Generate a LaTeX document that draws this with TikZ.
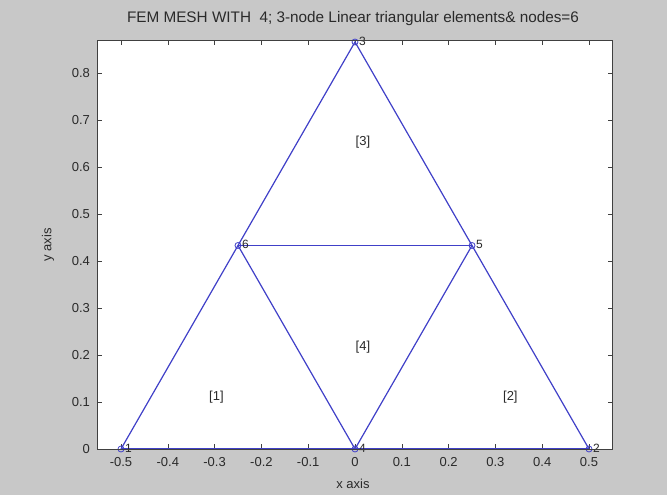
\documentclass[tikz,border=0pt]{standalone}
\usepackage{fontspec}
\setmainfont{Liberation Sans}
\definecolor{figbg}{HTML}{C8C8C8}
\definecolor{meshblue}{HTML}{4040C8}
\definecolor{axgray}{HTML}{404040}
\definecolor{txtgray}{HTML}{2A2A2A}
\begin{document}
\begin{tikzpicture}[x=1pt,y=1pt,
  ticklab/.style={font=\fontsize{13}{15}\selectfont,text=txtgray,inner sep=0pt},
  meshline/.style={draw=meshblue,line width=1.2pt},
  nodemark/.style={circle,draw=meshblue,line width=0.8pt,minimum size=6pt,inner sep=0pt},
  nodelab/.style={font=\fontsize{12}{14}\selectfont,text=txtgray,inner sep=0pt,anchor=west},
  elemlab/.style={font=\fontsize{13}{15}\selectfont,text=txtgray,inner sep=0pt}]
\fill[figbg] (0,0) rectangle (667,-495);
\useasboundingbox (0,0) rectangle (667,-495);
\fill[white] (97,-40) rectangle (612,-449);
\node[font=\fontsize{15.3}{17}\selectfont,text=txtgray] (title) at (353,-19) {FEM MESH WITH \ 4; 3-node Linear triangular elements\& nodes=6};
\node[ticklab] (xlab) at (353,-484) {x axis};
\node[ticklab,rotate=90] (ylab) at (48,-245) {y axis};
\begin{scope}[shift={(355,-449)},x=468pt,y=470pt]
  % ticks
  \foreach \t in {-0.5,-0.4,-0.3,-0.2,-0.1,0,0.1,0.2,0.3,0.4,0.5}{
    \draw[axgray,line width=0.5pt] (\t,0) -- ++(0,5pt);
    \draw[axgray,line width=0.5pt] (\t,0.87) -- ++(0,-5pt);
    \node[ticklab,anchor=north] at ([yshift=-8pt]\t,0) {\t};
  }
  \foreach \t in {0,0.1,0.2,0.3,0.4,0.5,0.6,0.7,0.8}{
    \draw[axgray,line width=0.5pt] (-0.551,\t) -- ++(5pt,0);
    \draw[axgray,line width=0.5pt] (0.551,\t) -- ++(-5pt,0);
    \node[ticklab,anchor=east] at (-0.566,\t) {\t};
  }
  % mesh nodes
  \coordinate (n1) at (-0.5,0);
  \coordinate (n2) at (0.5,0);
  \coordinate (n3) at (0,0.866);
  \coordinate (n4) at (0,0);
  \coordinate (n5) at (0.25,0.433);
  \coordinate (n6) at (-0.25,0.433);
  \draw[meshline] (n1) -- (n4) -- (n2);
  \draw[meshline] (n1) -- (n6) -- (n3) -- (n5) -- (n2);
  \draw[meshline] (n6) -- (n5);
  \draw[meshline] (n6) -- (n4) -- (n5);
  \foreach \i in {1,...,6}{
    \node[nodemark] (m\i) at (n\i) {};
    \node[nodelab] (l\i) at ([xshift=0.5pt,yshift=1pt]m\i.east) {\i};
  }
  \node[elemlab] (e1) at (-0.296,0.11) {[1]};
  \node[elemlab] (e2) at (0.332,0.11) {[2]};
  \node[elemlab] (e3) at (0.017,0.652) {[3]};
  \node[elemlab] (e4) at (0.017,0.217) {[4]};
\end{scope}
\draw[axgray,line width=0.6pt] (97,-40) rectangle (612,-449);
\end{tikzpicture}
\end{document}
